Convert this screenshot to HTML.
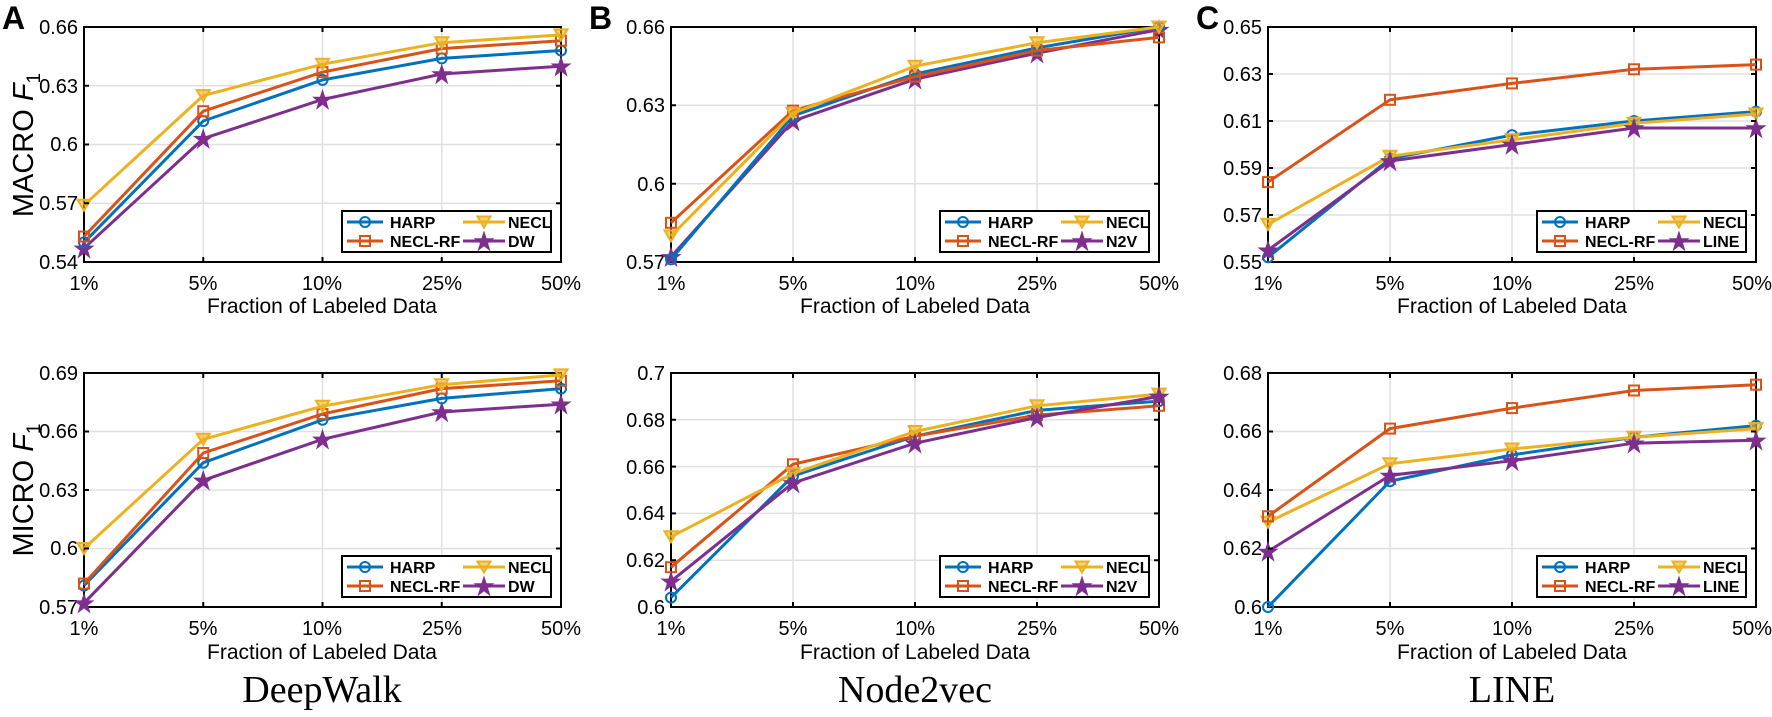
<!DOCTYPE html>
<html><head><meta charset="utf-8"><style>
html,body{margin:0;padding:0;background:#fff}
svg{display:block}
text{font-family:"Liberation Sans",Arial,sans-serif;fill:#000}
.tk{font-size:20px}
.xl{font-size:21px}
.lg{font-size:16px;font-weight:bold}
.tt{font-family:"Liberation Serif",serif;font-size:38px}
.pl{font-size:32px;font-weight:bold}
.grid line{stroke:#e0e0e0;stroke-width:1.5}
.box{fill:none;stroke:#000;stroke-width:2}
.s1{fill:none;stroke:#0072BD;stroke-width:3;marker-start:url(#m1);marker-mid:url(#m1);marker-end:url(#m1)}
.s2{fill:none;stroke:#D95319;stroke-width:3;marker-start:url(#m2);marker-mid:url(#m2);marker-end:url(#m2)}
.s3{fill:none;stroke:#EDB120;stroke-width:3;marker-start:url(#m3);marker-mid:url(#m3);marker-end:url(#m3)}
.s4{fill:none;stroke:#7E2F8E;stroke-width:3;marker-start:url(#m4);marker-mid:url(#m4);marker-end:url(#m4)}
</style></head><body>
<svg width="1772" height="717" viewBox="0 0 1772 717" xmlns="http://www.w3.org/2000/svg">
<defs>
<marker id="m1" markerUnits="userSpaceOnUse" markerWidth="16" markerHeight="16" refX="8" refY="8" overflow="visible"><circle cx="8" cy="8" r="5" fill="none" stroke="#0072BD" stroke-width="2"/></marker>
<marker id="m2" markerUnits="userSpaceOnUse" markerWidth="16" markerHeight="16" refX="8" refY="8" overflow="visible"><rect x="3" y="3" width="10" height="10" fill="none" stroke="#D95319" stroke-width="2"/></marker>
<marker id="m3" markerUnits="userSpaceOnUse" markerWidth="16" markerHeight="16" refX="8" refY="8" overflow="visible"><path d="M1.5 2.5 L14.5 2.5 L8 13.5 Z" fill="#EDB120" fill-opacity="0.6" stroke="#EDB120" stroke-width="2"/></marker>
<marker id="m4" markerUnits="userSpaceOnUse" markerWidth="18" markerHeight="18" refX="9" refY="9" overflow="visible"><path d="M9 0 L11.2 6.8 L18 6.8 L12.5 11 L14.6 18 L9 13.6 L3.4 18 L5.5 11 L0 6.8 L6.8 6.8 Z" fill="#7E2F8E" stroke="#7E2F8E" stroke-width="1"/></marker>
<g id="tx"><path d="M122.5 0v5M244.5 0v5M366.5 0v5" stroke="#000" stroke-width="2"/></g>
</defs>

<text class="pl" x="2" y="29">A</text>
<text class="pl" x="589" y="29">B</text>
<text class="pl" x="1196" y="29">C</text>
<text style="font-size:29px" transform="translate(33,145) rotate(-90)" text-anchor="middle">MACRO <tspan font-style="italic">F</tspan><tspan font-size="19" dy="7">1</tspan></text>
<text style="font-size:29px" transform="translate(33,490) rotate(-90)" text-anchor="middle">MICRO <tspan font-style="italic">F</tspan><tspan font-size="19" dy="7">1</tspan></text>
<text class="tt" x="322" y="702" text-anchor="middle">DeepWalk</text>
<text class="tt" x="915" y="702" text-anchor="middle">Node2vec</text>
<text class="tt" x="1512" y="702" text-anchor="middle">LINE</text>

<!-- A top -->
<g class="grid"><line x1="203.25" y1="27" x2="203.25" y2="262"/><line x1="322.5" y1="27" x2="322.5" y2="262"/><line x1="441.75" y1="27" x2="441.75" y2="262"/><line x1="84" y1="203.25" x2="561" y2="203.25"/><line x1="84" y1="144.5" x2="561" y2="144.5"/><line x1="84" y1="85.75" x2="561" y2="85.75"/></g>
<rect class="box" x="84" y="27" width="477" height="235"/>
<g class="tk" text-anchor="end"><text x="78" y="34">0.66</text><text x="78" y="93">0.63</text><text x="78" y="151">0.6</text><text x="78" y="210">0.57</text><text x="78" y="269">0.54</text></g>
<g class="tk" text-anchor="middle"><text x="84" y="290">1%</text><text x="203" y="290">5%</text><text x="322" y="290">10%</text><text x="442" y="290">25%</text><text x="561" y="290">50%</text></g>
<text class="xl" x="322" y="313" text-anchor="middle">Fraction of Labeled Data</text>
<polyline class="s4" points="84,248.3 203.25,138.6 322.5,99.5 441.75,74 561,66.2"/>
<polyline class="s1" points="84,242.4 203.25,121 322.5,79.9 441.75,58.4 561,50.5"/>
<polyline class="s2" points="84,236.5 203.25,111.2 322.5,72.1 441.75,48.6 561,40.7"/>
<polyline class="s3" points="84,205.2 203.25,95.6 322.5,64.2 441.75,42.7 561,34.9"/>

<!-- A bottom -->
<g class="grid"><line x1="203.25" y1="373" x2="203.25" y2="607"/><line x1="322.5" y1="373" x2="322.5" y2="607"/><line x1="441.75" y1="373" x2="441.75" y2="607"/><line x1="84" y1="548.5" x2="561" y2="548.5"/><line x1="84" y1="490" x2="561" y2="490"/><line x1="84" y1="431.5" x2="561" y2="431.5"/></g>
<rect class="box" x="84" y="373" width="477" height="234"/>
<g class="tk" text-anchor="end"><text x="78" y="380">0.69</text><text x="78" y="438">0.66</text><text x="78" y="497">0.63</text><text x="78" y="555">0.6</text><text x="78" y="614">0.57</text></g>
<g class="tk" text-anchor="middle"><text x="84" y="635">1%</text><text x="203" y="635">5%</text><text x="322" y="635">10%</text><text x="442" y="635">25%</text><text x="561" y="635">50%</text></g>
<text class="xl" x="322" y="659" text-anchor="middle">Fraction of Labeled Data</text>
<polyline class="s4" points="84,603.1 203.25,480.3 322.5,439.3 441.75,412 561,404.2"/>
<polyline class="s1" points="84,585.6 203.25,462.7 322.5,419.8 441.75,398.4 561,388.6"/>
<polyline class="s2" points="84,583.6 203.25,453 322.5,414 441.75,388.6 561,380.8"/>
<polyline class="s3" points="84,548.5 203.25,439.3 322.5,406.2 441.75,384.7 561,374.9"/>

<!-- B top -->
<g class="grid"><line x1="793" y1="27" x2="793" y2="262"/><line x1="915" y1="27" x2="915" y2="262"/><line x1="1037" y1="27" x2="1037" y2="262"/><line x1="671" y1="183.7" x2="1159" y2="183.7"/><line x1="671" y1="105.3" x2="1159" y2="105.3"/></g>
<rect class="box" x="671" y="27" width="488" height="235"/>
<g class="tk" text-anchor="end"><text x="665" y="34">0.66</text><text x="665" y="112">0.63</text><text x="665" y="191">0.6</text><text x="665" y="269">0.57</text></g>
<g class="tk" text-anchor="middle"><text x="671" y="290">1%</text><text x="793" y="290">5%</text><text x="915" y="290">10%</text><text x="1037" y="290">25%</text><text x="1159" y="290">50%</text></g>
<text class="xl" x="915" y="313" text-anchor="middle">Fraction of Labeled Data</text>
<polyline class="s4" points="671,256.8 793,121 915,79.2 1037,53.1 1159,29.6"/>
<polyline class="s1" points="671,259.4 793,115.8 915,74 1037,47.9 1159,27"/>
<polyline class="s2" points="671,222.8 793,110.6 915,76.6 1037,50.5 1159,37.4"/>
<polyline class="s3" points="671,235.9 793,113.2 915,66.2 1037,42.7 1159,27"/>

<!-- B bottom -->
<g class="grid"><line x1="793" y1="373" x2="793" y2="607"/><line x1="915" y1="373" x2="915" y2="607"/><line x1="1037" y1="373" x2="1037" y2="607"/><line x1="671" y1="560.2" x2="1159" y2="560.2"/><line x1="671" y1="513.4" x2="1159" y2="513.4"/><line x1="671" y1="466.6" x2="1159" y2="466.6"/><line x1="671" y1="419.8" x2="1159" y2="419.8"/></g>
<rect class="box" x="671" y="373" width="488" height="234"/>
<g class="tk" text-anchor="end"><text x="665" y="380">0.7</text><text x="665" y="427">0.68</text><text x="665" y="474">0.66</text><text x="665" y="520">0.64</text><text x="665" y="567">0.62</text><text x="665" y="614">0.6</text></g>
<g class="tk" text-anchor="middle"><text x="671" y="635">1%</text><text x="793" y="635">5%</text><text x="915" y="635">10%</text><text x="1037" y="635">25%</text><text x="1159" y="635">50%</text></g>
<text class="xl" x="915" y="659" text-anchor="middle">Fraction of Labeled Data</text>
<polyline class="s1" points="671,597.6 793,476 915,436.2 1037,410.4 1159,401.1"/>
<polyline class="s2" points="671,567.2 793,464.3 915,436.2 1037,415.1 1159,405.8"/>
<polyline class="s3" points="671,536.8 793,473.6 915,431.5 1037,405.8 1159,394.1"/>
<polyline class="s4" points="671,581.3 793,483 915,443.2 1037,417.5 1159,396.4"/>

<!-- C top -->
<g class="grid"><line x1="1390" y1="27" x2="1390" y2="262"/><line x1="1512" y1="27" x2="1512" y2="262"/><line x1="1634" y1="27" x2="1634" y2="262"/><line x1="1268" y1="215" x2="1756" y2="215"/><line x1="1268" y1="168" x2="1756" y2="168"/><line x1="1268" y1="121" x2="1756" y2="121"/><line x1="1268" y1="74" x2="1756" y2="74"/></g>
<rect class="box" x="1268" y="27" width="488" height="235"/>
<g class="tk" text-anchor="end"><text x="1262" y="34">0.65</text><text x="1262" y="81">0.63</text><text x="1262" y="128">0.61</text><text x="1262" y="175">0.59</text><text x="1262" y="222">0.57</text><text x="1262" y="269">0.55</text></g>
<g class="tk" text-anchor="middle"><text x="1268" y="290">1%</text><text x="1390" y="290">5%</text><text x="1512" y="290">10%</text><text x="1634" y="290">25%</text><text x="1752" y="290">50%</text></g>
<text class="xl" x="1512" y="313" text-anchor="middle">Fraction of Labeled Data</text>
<polyline class="s1" points="1268,257.3 1390,158.6 1512,135.1 1634,121 1756,111.6"/>
<polyline class="s3" points="1268,224.4 1390,156.2 1512,139.8 1634,123.3 1756,114"/>
<polyline class="s4" points="1268,250.2 1390,161 1512,144.5 1634,128 1756,128"/>
<polyline class="s2" points="1268,182.1 1390,99.8 1512,83.4 1634,69.3 1756,64.6"/>

<!-- C bottom -->
<g class="grid"><line x1="1390" y1="373" x2="1390" y2="607"/><line x1="1512" y1="373" x2="1512" y2="607"/><line x1="1634" y1="373" x2="1634" y2="607"/><line x1="1268" y1="548.5" x2="1756" y2="548.5"/><line x1="1268" y1="490" x2="1756" y2="490"/><line x1="1268" y1="431.5" x2="1756" y2="431.5"/></g>
<rect class="box" x="1268" y="373" width="488" height="234"/>
<g class="tk" text-anchor="end"><text x="1262" y="380">0.68</text><text x="1262" y="438">0.66</text><text x="1262" y="497">0.64</text><text x="1262" y="555">0.62</text><text x="1262" y="614">0.6</text></g>
<g class="tk" text-anchor="middle"><text x="1268" y="635">1%</text><text x="1390" y="635">5%</text><text x="1512" y="635">10%</text><text x="1634" y="635">25%</text><text x="1752" y="635">50%</text></g>
<text class="xl" x="1512" y="659" text-anchor="middle">Fraction of Labeled Data</text>
<polyline class="s1" points="1268,607 1390,481.2 1512,454.9 1634,437.3 1756,425.6"/>
<polyline class="s3" points="1268,522.2 1390,463.7 1512,449 1634,437.3 1756,428.6"/>
<polyline class="s4" points="1268,551.4 1390,475.4 1512,460.7 1634,443.2 1756,440.3"/>
<polyline class="s2" points="1268,516.3 1390,428.6 1512,408.1 1634,390.5 1756,384.7"/>

<!-- tick marks -->
<g stroke="#000" stroke-width="2">
<path d="M203.25 27v5M322.5 27v5M441.75 27v5M203.25 262v-5M322.5 262v-5M441.75 262v-5M84 85.75h5M84 144.5h5M84 203.25h5M561 85.75h-5M561 144.5h-5M561 203.25h-5"/>
<path d="M203.25 373v5M322.5 373v5M441.75 373v5M203.25 607v-5M322.5 607v-5M441.75 607v-5M84 431.5h5M84 490h5M84 548.5h5M561 431.5h-5M561 490h-5M561 548.5h-5"/>
<path d="M793 27v5M915 27v5M1037 27v5M793 262v-5M915 262v-5M1037 262v-5M671 105.3h5M671 183.7h5M1159 105.3h-5M1159 183.7h-5"/>
<path d="M793 373v5M915 373v5M1037 373v5M793 607v-5M915 607v-5M1037 607v-5M671 419.8h5M671 466.6h5M671 513.4h5M671 560.2h5M1159 419.8h-5M1159 466.6h-5M1159 513.4h-5M1159 560.2h-5"/>
<path d="M1390 27v5M1512 27v5M1634 27v5M1390 262v-5M1512 262v-5M1634 262v-5M1268 74h5M1268 121h5M1268 168h5M1268 215h5M1756 74h-5M1756 121h-5M1756 168h-5M1756 215h-5"/>
<path d="M1390 373v5M1512 373v5M1634 373v5M1390 607v-5M1512 607v-5M1634 607v-5M1268 431.5h5M1268 490h5M1268 548.5h5M1756 431.5h-5M1756 490h-5M1756 548.5h-5"/>
</g>

<!-- Legends -->
<g transform="translate(342,211)">
<rect x="0" y="0" width="209" height="41" fill="#fff" stroke="#000" stroke-width="2"/>
<polyline class="s1" points="5,11 23,11 41,11" style="marker-start:none;marker-end:none"/>
<polyline class="s2" points="5,30 23,30 41,30" style="marker-start:none;marker-end:none"/>
<polyline class="s3" points="121,11 142,11 163,11" style="marker-start:none;marker-end:none"/>
<polyline class="s4" points="121,30 142,30 163,30" style="marker-start:none;marker-end:none"/>
<text class="lg" x="48" y="17">HARP</text><text class="lg" x="48" y="36">NECL-RF</text>
<text class="lg" x="166" y="17">NECL</text><text class="lg" x="166" y="36">DW</text>
</g>
<g transform="translate(342,556)">
<rect x="0" y="0" width="209" height="41" fill="#fff" stroke="#000" stroke-width="2"/>
<polyline class="s1" points="5,11 23,11 41,11" style="marker-start:none;marker-end:none"/>
<polyline class="s2" points="5,30 23,30 41,30" style="marker-start:none;marker-end:none"/>
<polyline class="s3" points="121,11 142,11 163,11" style="marker-start:none;marker-end:none"/>
<polyline class="s4" points="121,30 142,30 163,30" style="marker-start:none;marker-end:none"/>
<text class="lg" x="48" y="17">HARP</text><text class="lg" x="48" y="36">NECL-RF</text>
<text class="lg" x="166" y="17">NECL</text><text class="lg" x="166" y="36">DW</text>
</g>
<g transform="translate(940,211)">
<rect x="0" y="0" width="209" height="41" fill="#fff" stroke="#000" stroke-width="2"/>
<polyline class="s1" points="5,11 23,11 41,11" style="marker-start:none;marker-end:none"/>
<polyline class="s2" points="5,30 23,30 41,30" style="marker-start:none;marker-end:none"/>
<polyline class="s3" points="121,11 142,11 163,11" style="marker-start:none;marker-end:none"/>
<polyline class="s4" points="121,30 142,30 163,30" style="marker-start:none;marker-end:none"/>
<text class="lg" x="48" y="17">HARP</text><text class="lg" x="48" y="36">NECL-RF</text>
<text class="lg" x="166" y="17">NECL</text><text class="lg" x="166" y="36">N2V</text>
</g>
<g transform="translate(940,556)">
<rect x="0" y="0" width="209" height="41" fill="#fff" stroke="#000" stroke-width="2"/>
<polyline class="s1" points="5,11 23,11 41,11" style="marker-start:none;marker-end:none"/>
<polyline class="s2" points="5,30 23,30 41,30" style="marker-start:none;marker-end:none"/>
<polyline class="s3" points="121,11 142,11 163,11" style="marker-start:none;marker-end:none"/>
<polyline class="s4" points="121,30 142,30 163,30" style="marker-start:none;marker-end:none"/>
<text class="lg" x="48" y="17">HARP</text><text class="lg" x="48" y="36">NECL-RF</text>
<text class="lg" x="166" y="17">NECL</text><text class="lg" x="166" y="36">N2V</text>
</g>
<g transform="translate(1537,211)">
<rect x="0" y="0" width="209" height="41" fill="#fff" stroke="#000" stroke-width="2"/>
<polyline class="s1" points="5,11 23,11 41,11" style="marker-start:none;marker-end:none"/>
<polyline class="s2" points="5,30 23,30 41,30" style="marker-start:none;marker-end:none"/>
<polyline class="s3" points="121,11 142,11 163,11" style="marker-start:none;marker-end:none"/>
<polyline class="s4" points="121,30 142,30 163,30" style="marker-start:none;marker-end:none"/>
<text class="lg" x="48" y="17">HARP</text><text class="lg" x="48" y="36">NECL-RF</text>
<text class="lg" x="166" y="17">NECL</text><text class="lg" x="166" y="36">LINE</text>
</g>
<g transform="translate(1537,556)">
<rect x="0" y="0" width="209" height="41" fill="#fff" stroke="#000" stroke-width="2"/>
<polyline class="s1" points="5,11 23,11 41,11" style="marker-start:none;marker-end:none"/>
<polyline class="s2" points="5,30 23,30 41,30" style="marker-start:none;marker-end:none"/>
<polyline class="s3" points="121,11 142,11 163,11" style="marker-start:none;marker-end:none"/>
<polyline class="s4" points="121,30 142,30 163,30" style="marker-start:none;marker-end:none"/>
<text class="lg" x="48" y="17">HARP</text><text class="lg" x="48" y="36">NECL-RF</text>
<text class="lg" x="166" y="17">NECL</text><text class="lg" x="166" y="36">LINE</text>
</g>
</svg>
</body></html>
